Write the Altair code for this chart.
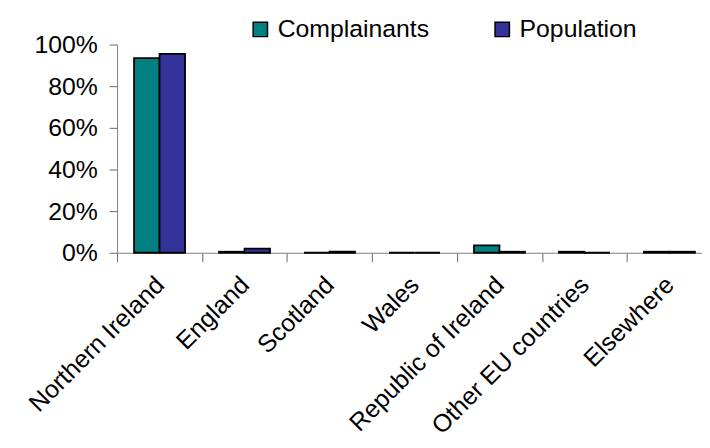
import altair as alt
import pandas as pd

categories = ["Northern Ireland", "England", "Scotland", "Wales",
              "Republic of Ireland", "Other EU countries", "Elsewhere"]
complainants = [93.5, 0.5, 0.0, 0.0, 3.5, 0.5, 0.5]
population = [95.5, 2.0, 0.5, 0.0, 0.5, 0.0, 0.5]
series = ["Complainants", "Population"]
colors = ["#008080", "#333399"]

rows = []
for i, c in enumerate(categories):
    rows.append({"cat": c, "series": series[0], "value": complainants[i] / 100})
    rows.append({"cat": c, "series": series[1], "value": population[i] / 100})
df = pd.DataFrame(rows)

font = "Liberation Sans"
fs = 25

chart = alt.Chart(df).mark_bar(stroke="black", strokeWidth=1.8).encode(
    x=alt.X("cat:N", sort=categories, title=None,
            scale=alt.Scale(paddingInner=0, paddingOuter=0, range=[0, 600]),
            axis=alt.Axis(labelAngle=-45, labelFontSize=fs, labelFont=font,
                          labelColor="black", tickBand="extent", tickSize=9,
                          tickColor="#666", domainColor="#808080",
                          labelAlign="right", labelBaseline="middle",
                          labelPadding=19, grid=False, labelOverlap=False,
                          labelLimit=0)),
    xOffset=alt.XOffset("series:N", sort=series,
                        scale=alt.Scale(paddingInner=0, paddingOuter=0.667)),
    y=alt.Y("value:Q", title=None,
            scale=alt.Scale(domain=[0, 1]),
            axis=alt.Axis(format="%", values=[0, 0.2, 0.4, 0.6, 0.8, 1.0],
                          labelFontSize=fs, labelFont=font, labelColor="black",
                          tickSize=8, tickColor="#666", domainColor="#808080",
                          grid=False, labelPadding=12)),
    fill=alt.Fill("series:N", sort=series,
                  scale=alt.Scale(domain=series, range=colors),
                  legend=alt.Legend(title=None, orient="none", legendX=132,
                                    legendY=-28, direction="horizontal",
                                    symbolType="square", symbolSize=210,
                                    symbolStrokeColor="black",
                                    symbolStrokeWidth=1.5,
                                    labelFontSize=fs, labelFont=font,
                                    labelColor="black", columnPadding=61,
                                    labelOffset=5, padding=0)),
).properties(
    width=590, height=210,
    autosize=alt.AutoSizeParams(type="none"),
    padding={"left": 110, "top": 35, "right": 0, "bottom": 189},
).configure_view(stroke=None)

chart.save("out.html", embed_options={"renderer": "svg", "actions": False})
